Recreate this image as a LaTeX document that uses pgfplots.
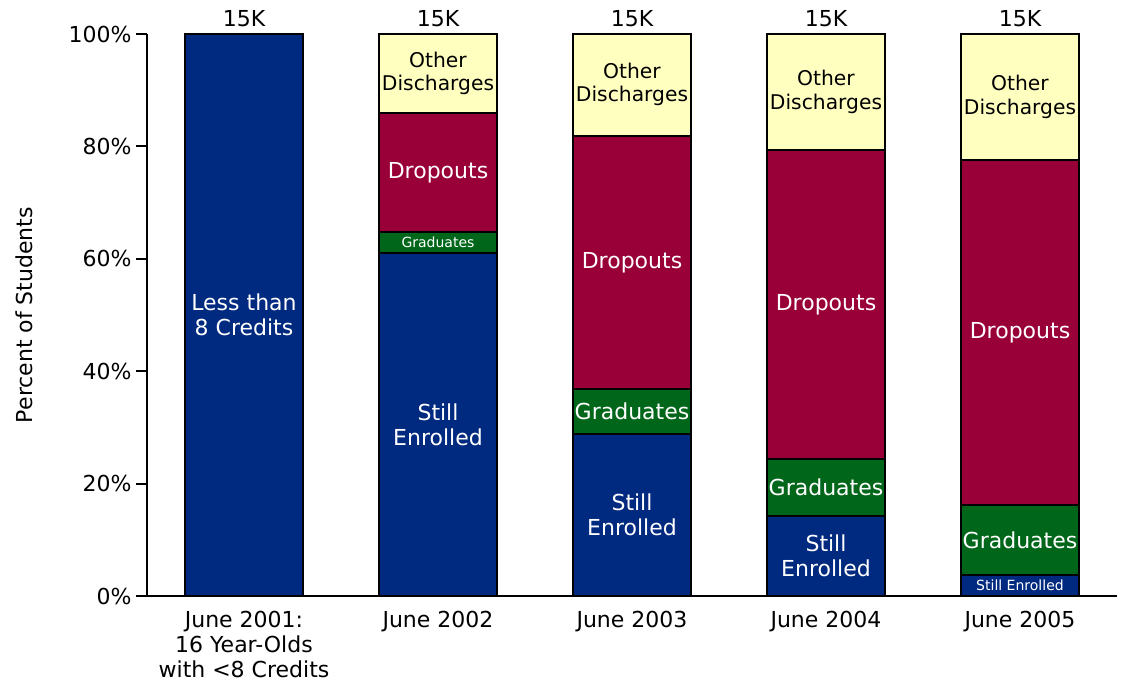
\documentclass[border=0pt]{standalone}
\usepackage{pgfplots}
\pgfplotsset{compat=1.18}
\usepackage{fontspec}
\setmainfont{DejaVu Sans}
\definecolor{cblue}{RGB}{0,42,127}
\definecolor{cgreen}{RGB}{0,102,26}
\definecolor{cred}{RGB}{153,0,56}
\definecolor{cyellow}{RGB}{255,255,192}
\newcommand{\bigf}{\fontsize{16.5}{18.75}\selectfont}
\newcommand{\otherf}{\fontsize{15.2}{17.5}\selectfont}
\newcommand{\smallf}{\fontsize{10.5}{12}\selectfont}
\begin{document}
\begin{tikzpicture}
\begin{axis}[
  scale only axis, width=727.5pt, height=421.5pt,
  ybar stacked, bar width=0.607, reverse stacked plots=false,
  xmin=-0.5, xmax=4.5, ymin=0, ymax=100,
  axis x line=bottom, axis y line=left,
  axis line style={line width=1.6pt, -},
  xtick={0,1,2,3,4},
  xticklabels={{June 2001:\\16 Year-Olds\\with <8 Credits},June 2002,June 2003,June 2004,June 2005},
  xticklabel style={align=center, font=\bigf},
  x tick style={draw=none},
  ytick={0,20,40,60,80,100},
  yticklabel={\pgfmathprintnumber{\tick}\%},
  /pgf/number format/assume math mode=true,
  yticklabel style={font=\bigf},
  y tick style={line width=1.6pt, black},
  tick align=outside, major tick length=8pt,
  ylabel={Percent of Students},
  ylabel style={font=\bigf, at={(axis description cs:-0.126,0.5)}, anchor=center},
  every axis plot/.append style={draw=black, line width=1.4pt},
  clip=false,
]
\addplot[fill=cblue] coordinates {(0,100) (1,61.0) (2,28.8) (3,14.2) (4,3.7)};
\addplot[fill=cgreen] coordinates {(0,0) (1,3.8) (2,8.0) (3,10.2) (4,12.5)};
\addplot[fill=cred] coordinates {(0,0) (1,21.1) (2,45.1) (3,55.0) (4,61.4)};
\addplot[fill=cyellow] coordinates {(0,0) (1,14.1) (2,18.1) (3,20.6) (4,22.4)};
\pgfplotsinvokeforeach{0,1,2,3,4}{
  \node[font=\bigf, anchor=south, inner sep=5pt] at (axis cs:#1,100) {15K};
}
\node[font=\bigf, text=white, align=center] at (axis cs:0,50) {Less than\\8 Credits};
% June 2002
\node[font=\bigf, text=white, align=center] at (axis cs:1,30.5) {Still\\Enrolled};
\node[font=\smallf, text=white] at (axis cs:1,62.9) {Graduates};
\node[font=\bigf, text=white] at (axis cs:1,75.3) {Dropouts};
\node[font=\otherf, text=black, align=center] at (axis cs:1,93.0) {Other\\Discharges};
% June 2003
\node[font=\bigf, text=white, align=center] at (axis cs:2,14.4) {Still\\Enrolled};
\node[font=\bigf, text=white] at (axis cs:2,32.8) {Graduates};
\node[font=\bigf, text=white] at (axis cs:2,59.3) {Dropouts};
\node[font=\otherf, text=black, align=center] at (axis cs:2,91.0) {Other\\Discharges};
% June 2004
\node[font=\bigf, text=white, align=center] at (axis cs:3,7.1) {Still\\Enrolled};
\node[font=\bigf, text=white] at (axis cs:3,19.3) {Graduates};
\node[font=\bigf, text=white] at (axis cs:3,51.9) {Dropouts};
\node[font=\otherf, text=black, align=center] at (axis cs:3,89.7) {Other\\Discharges};
% June 2005
\node[font=\smallf, text=white] at (axis cs:4,1.85) {Still Enrolled};
\node[font=\bigf, text=white] at (axis cs:4,9.95) {Graduates};
\node[font=\bigf, text=white] at (axis cs:4,46.9) {Dropouts};
\node[font=\otherf, text=black, align=center] at (axis cs:4,88.8) {Other\\Discharges};
\end{axis}
\pgfresetboundingbox
\useasboundingbox (-110.25pt,-63.75pt) rectangle (735pt,447pt);
\end{tikzpicture}
\end{document}
